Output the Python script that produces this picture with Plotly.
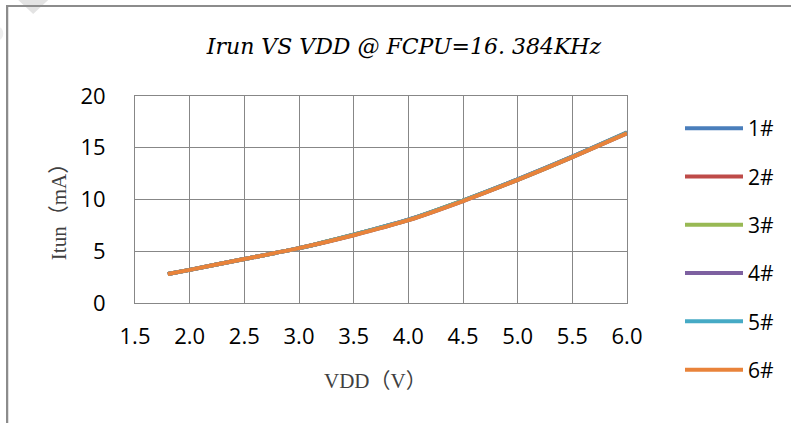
import plotly.graph_objects as go

vdd = [1.8, 2.0, 2.5, 3.0, 3.5, 4.0, 4.5, 5.0, 5.5, 6.0]
series_names = ["1#", "2#", "3#", "4#", "5#", "6#"]
itun_1 = [2.80, 3.20, 4.25, 5.30, 6.60, 8.05, 9.90, 11.95, 14.15, 16.50]
itun_2 = [2.80, 3.20, 4.25, 5.30, 6.60, 8.05, 9.90, 11.95, 14.15, 16.45]
itun_3 = [2.80, 3.20, 4.25, 5.30, 6.60, 8.00, 9.90, 11.90, 14.10, 16.45]
itun_4 = [2.80, 3.20, 4.25, 5.30, 6.55, 8.00, 9.85, 11.90, 14.10, 16.40]
itun_5 = [2.80, 3.20, 4.25, 5.30, 6.60, 8.05, 9.90, 11.95, 14.15, 16.45]
itun_6 = [2.80, 3.20, 4.25, 5.30, 6.55, 8.00, 9.85, 11.90, 14.10, 16.40]
all_series = [itun_1, itun_2, itun_3, itun_4, itun_5, itun_6]
colors = ["#4A7EBB", "#BE4B48", "#98B954", "#7D60A0", "#46AAC5", "#E9833A"]

x_ticks = [1.5, 2.0, 2.5, 3.0, 3.5, 4.0, 4.5, 5.0, 5.5, 6.0]
y_ticks = [0, 5, 10, 15, 20]
title_text = "Irun VS VDD @ FCPU=16. 384KHz"
x_title = "VDD（V）"
y_title = "Itun（mA）"

W, H = 791, 423
L, R, T, B = 135, 628, 96, 303

fig = go.Figure()
for name, ys, c in zip(series_names, all_series, colors):
    fig.add_trace(go.Scatter(
        x=vdd, y=ys, name=name, mode="lines",
        line=dict(color=c, width=4, shape="spline", smoothing=0.6),
        legendgroup=name,
    ))

gridc = "#878787"
tickfont = dict(family="Open Sans", size=22, color="#000000")
fig.update_layout(
    width=W, height=H,
    margin=dict(l=L, r=W - R, t=T, b=H - B, pad=0),
    paper_bgcolor="white", plot_bgcolor="white",
    title=dict(
        text=f"<i>{title_text}</i>",
        font=dict(family="DejaVu Serif", size=22, color="#000000"),
        x=404 / W, xanchor="center", y=1 - 46 / H, yanchor="middle",
    ),
    xaxis=dict(
        range=[1.5, 6.0], tickvals=x_ticks,
        ticktext=[f"{v:.1f}" for v in x_ticks],
        showgrid=True, gridcolor=gridc, gridwidth=1,
        showline=True, linecolor=gridc, linewidth=1, mirror=True,
        zeroline=False, ticks="",
        tickfont=tickfont,
        ticklabelstandoff=14,
    ),
    yaxis=dict(
        range=[0, 20], tickvals=y_ticks,
        showgrid=True, gridcolor=gridc, gridwidth=1,
        showline=True, linecolor=gridc, linewidth=1, mirror=True,
        zeroline=False, ticks="",
        tickfont=tickfont,
        ticklabelstandoff=24,
    ),
    legend=dict(
        x=(680 - L) / (R - L), xanchor="left", y=(B - 108) / (B - T), yanchor="top",
        font=dict(family="Open Sans", size=21, color="#000000"),
        tracegroupgap=18, traceorder="grouped",
        itemwidth=58, bgcolor="rgba(0,0,0,0)", maxheight=420,
    ),
    showlegend=True,
)

def px_x(p):
    return (p - L) / (R - L)

def px_y(p):
    return (B - p) / (B - T)

fig.add_annotation(text=x_title, xref="paper", yref="paper", x=px_x(376), y=px_y(381),
                   xanchor="center", yanchor="middle", showarrow=False,
                   font=dict(family="Liberation Serif, Noto Sans CJK SC", size=21, color="#404040"))
fig.add_annotation(text=y_title, xref="paper", yref="paper", x=px_x(59), y=px_y(207),
                   xanchor="center", yanchor="middle", showarrow=False, textangle=-90,
                   font=dict(family="Liberation Serif, Noto Sans CJK SC", size=21, color="#404040"))

# chart area border (frame extends beyond the window at right and bottom)
fig.add_shape(type="rect", xref="paper", yref="paper",
              x0=px_x(7), x1=px_x(900), y0=px_y(6), y1=px_y(600),
              line=dict(color="#8C8C8C", width=2), fillcolor="rgba(0,0,0,0)", layer="above")
# faint corner marks
fig.add_shape(type="path", xref="paper", yref="paper",
              path=f"M {px_x(18)},{px_y(0)} L {px_x(48)},{px_y(0)} L {px_x(33)},{px_y(14)} Z",
              fillcolor="#E3E3E3", line=dict(width=0))
fig.add_shape(type="circle", xref="paper", yref="paper",
              x0=px_x(-6), x1=px_x(3), y0=px_y(27), y1=px_y(40),
              fillcolor="#EEEEEE", line=dict(width=0))

post = (
    "document.body.style.margin='0';"
    "var f=document.createElement('div');"
    "f.style.cssText='position:absolute;left:6px;top:5px;width:900px;height:600px;"
    "border-top:2px solid #8C8C8C;border-left:2px solid #8C8C8C;pointer-events:none;z-index:1000;';"
    "document.body.appendChild(f);"
    "document.documentElement.style.overflow='hidden';"
)
fig.write_html("out.html", config={"displayModeBar": False}, post_script=post)
